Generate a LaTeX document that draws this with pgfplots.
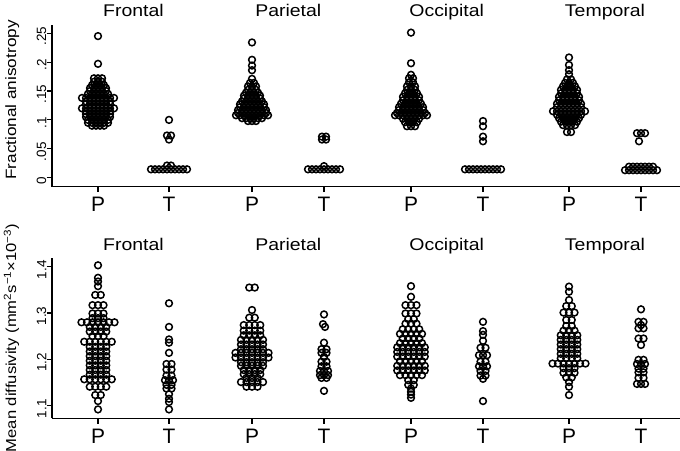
\documentclass[border=0pt]{standalone}
\usepackage{fontspec}
\setmainfont{Liberation Sans}
\newfontfamily\wide{Liberation Sans}[FakeStretch=1.15]
\usepackage{pgfplots}
\pgfplotsset{compat=1.18}
\pgfplotsset{
  dot/.style={only marks, mark=o, mark size=3.4pt, black, mark options={solid, fill=none, line width=1.5pt}},
  panel/.style={
    scale only axis, width=628bp, xmin=52, xmax=680, clip=false,
    axis x line*=bottom, axis y line*=left,
    axis line style={line width=1.2pt, black},
    tick align=outside, major tick length=5.5bp,
    tick style={line width=1.2pt, black},
    xtick={98,169,252,324,411,483,569,641},
    xticklabels={P,T,P,T,P,T,P,T},
    xticklabel style={font=\fontsize{21}{21}\selectfont, inner sep=0pt, yshift=-5bp},
    yticklabel style={rotate=90, anchor=south, font=\fontsize{13.5}{13.5}\selectfont, inner sep=0pt, xshift=-3bp},
    /pgf/number format/assume math mode=true,
  }
}
\begin{document}
\begin{tikzpicture}
\useasboundingbox (0,0) rectangle (680bp,-451bp);
% ---------------- top panel: fractional anisotropy
\begin{axis}[panel, at={(52bp,-186.7bp)}, anchor=south west, height=161.7bp,
  ymin=-0.0156, ymax=0.2642, ytick={0,0.05,0.1,0.15,0.2,0.25},
  yticklabels={0,.05,.1,.15,.2,.25}]
% Frontal P
\addplot[dot] coordinates {
(98,.245) (98,.197)
(94,.172) (98,.172) (102,.172)
(94,.166) (98,.166) (102,.166)
(92,.160) (96,.160) (100,.160) (104,.160)
(90,.155) (94,.155) (98,.155) (102,.155) (106,.155)
(90,.150) (94,.150) (98,.150) (102,.150) (106,.150)
(88,.145) (92,.145) (96,.145) (100,.145) (104,.145) (108,.145)
(82,.138) (86,.138) (90,.138) (94,.138) (98,.138) (102,.138) (106,.138) (110,.138) (114,.138)
(86,.132) (90,.132) (94,.132) (98,.132) (102,.132) (106,.132) (110,.132)
(86,.127) (90,.127) (94,.127) (98,.127) (102,.127) (106,.127) (110,.127)
(82,.120) (86,.120) (90,.120) (94,.120) (98,.120) (102,.120) (106,.120) (110,.120) (114,.120)
(86,.115) (90,.115) (94,.115) (98,.115) (102,.115) (106,.115) (110,.115)
(86,.110) (90,.110) (94,.110) (98,.110) (102,.110) (106,.110) (110,.110)
(86,.105) (90,.105) (94,.105) (98,.105) (102,.105) (106,.105) (110,.105)
(88,.100) (92,.100) (96,.100) (100,.100) (104,.100) (108,.100)
(88,.095) (92,.095) (96,.095) (100,.095) (104,.095) (108,.095)
(92,.090) (96,.090) (100,.090) (104,.090)
};
% Frontal T
\addplot[dot] coordinates {
(151,.0145) (155,.0145) (159,.0145) (163,.0145) (167,.0145) (171,.0145) (175,.0145) (179,.0145) (183,.0145) (187,.0145)
(167,.021) (171,.021)
(169,.066) (167,.073) (171,.073) (169,.100)
};
% Parietal P
\addplot[dot] coordinates {
(252,.234) (252,.204) (252,.194) (252,.186) (252,.171)
(250,.164) (254,.164)
(248,.158) (252,.158) (256,.158)
(248,.152) (252,.152) (256,.152)
(246,.147) (250,.147) (254,.147) (258,.147)
(244,.142) (248,.142) (252,.142) (256,.142) (260,.142)
(244,.137) (248,.137) (252,.137) (256,.137) (260,.137)
(242,.132) (246,.132) (250,.132) (254,.132) (258,.132) (262,.132)
(240,.127) (244,.127) (248,.127) (252,.127) (256,.127) (260,.127) (264,.127)
(240,.122) (244,.122) (248,.122) (252,.122) (256,.122) (260,.122) (264,.122)
(238,.117) (242,.117) (246,.117) (250,.117) (254,.117) (258,.117) (262,.117) (266,.117)
(238,.112) (242,.112) (246,.112) (250,.112) (254,.112) (258,.112) (262,.112) (266,.112)
(236,.108) (240,.108) (244,.108) (248,.108) (252,.108) (256,.108) (260,.108) (264,.108) (268,.108)
(242,.103) (246,.103) (250,.103) (254,.103) (258,.103) (262,.103)
(248,.098) (252,.098) (256,.098)
};
% Parietal T
\addplot[dot] coordinates {
(308,.0145) (312,.0145) (316,.0145) (320,.0145) (324,.0145) (328,.0145) (332,.0145) (336,.0145) (340,.0145)
(324,.020)
(322,.066) (326,.066) (322,.071) (326,.071)
};
% Occipital P
\addplot[dot] coordinates {
(411,.251) (411,.198) (411,.178)
(409,.172) (413,.172)
(409,.165) (413,.165)
(407,.158) (411,.158) (415,.158)
(407,.152) (411,.152) (415,.152)
(405,.146) (409,.146) (413,.146) (417,.146)
(403,.140) (407,.140) (411,.140) (415,.140) (419,.140)
(403,.134) (407,.134) (411,.134) (415,.134) (419,.134)
(401,.128) (405,.128) (409,.128) (413,.128) (417,.128) (421,.128)
(399,.122) (403,.122) (407,.122) (411,.122) (415,.122) (419,.122) (423,.122)
(399,.117) (403,.117) (407,.117) (411,.117) (415,.117) (419,.117) (423,.117)
(397,.112) (401,.112) (405,.112) (409,.112) (413,.112) (417,.112) (421,.112) (425,.112)
(395,.108) (399,.108) (403,.108) (407,.108) (411,.108) (415,.108) (419,.108) (423,.108) (427,.108)
(403,.102) (407,.102) (411,.102) (415,.102) (419,.102)
(405,.096) (409,.096) (413,.096) (417,.096)
(407,.089) (411,.089) (415,.089)
};
% Occipital T
\addplot[dot] coordinates {
(465,.0145) (469,.0145) (473,.0145) (477,.0145) (481,.0145) (485,.0145) (489,.0145) (493,.0145) (497,.0145) (501,.0145)
(483,.063) (483,.071) (483,.089) (483,.098)
};
% Temporal P
\addplot[dot] coordinates {
(569,.208) (569,.195) (569,.186) (569,.179)
(567,.170) (571,.170)
(565,.164) (569,.164) (573,.164)
(563,.158) (567,.158) (571,.158) (575,.158)
(561,.152) (565,.152) (569,.152) (573,.152) (577,.152)
(561,.146) (565,.146) (569,.146) (573,.146) (577,.146)
(559,.140) (563,.140) (567,.140) (571,.140) (575,.140) (579,.140)
(559,.134) (563,.134) (567,.134) (571,.134) (575,.134) (579,.134)
(557,.128) (561,.128) (565,.128) (569,.128) (573,.128) (577,.128) (581,.128)
(557,.122) (561,.122) (565,.122) (569,.122) (573,.122) (577,.122) (581,.122)
(553,.115) (557,.115) (561,.115) (565,.115) (569,.115) (573,.115) (577,.115) (581,.115) (585,.115)
(557,.109) (561,.109) (565,.109) (569,.109) (573,.109) (577,.109) (581,.109)
(559,.103) (563,.103) (567,.103) (571,.103) (575,.103) (579,.103)
(561,.097) (565,.097) (569,.097) (573,.097) (577,.097)
(563,.091) (567,.091) (571,.091) (575,.091)
(567,.079) (571,.079)
};
% Temporal T
\addplot[dot] coordinates {
(625,.013) (629,.013) (633,.013) (637,.013) (641,.013) (645,.013) (649,.013) (653,.013) (657,.013)
(629,.019) (633,.019) (637,.019) (641,.019) (645,.019) (649,.019) (653,.019)
(639,.063) (637,.077) (641,.077) (645,.077)
};
\end{axis}
% ---------------- bottom panel: mean diffusivity
\begin{axis}[panel, at={(52bp,-418.3bp)}, anchor=south west, height=160.6bp,
  ymin=1.0728, ymax=1.4194, ytick={1.1,1.2,1.3,1.4},
  yticklabels={1.1,1.2,1.3,1.4}]
% Frontal P
\addplot[dot] coordinates {
(98,1.403) (98,1.376) (98,1.368) (98,1.358)
(95.25,1.339) (100.75,1.339)
(92.5,1.317) (98,1.317) (103.5,1.317)
(92.5,1.299) (98,1.299) (103.5,1.299)
(92.5,1.289) (98,1.289) (103.5,1.289)
(81.5,1.280) (87,1.280) (92.5,1.280) (98,1.280) (103.5,1.280) (109,1.280) (114.5,1.280)
(89.75,1.270) (95.25,1.270) (100.75,1.270) (106.25,1.270)
(89.75,1.260) (95.25,1.260) (100.75,1.260) (106.25,1.260)
(92.5,1.250) (98,1.250) (103.5,1.250)
(84.25,1.238) (89.75,1.238) (95.25,1.238) (100.75,1.238) (106.25,1.238) (111.75,1.238)
(89.75,1.227) (95.25,1.227) (100.75,1.227) (106.25,1.227)
(89.75,1.217) (95.25,1.217) (100.75,1.217) (106.25,1.217)
(89.75,1.207) (95.25,1.207) (100.75,1.207) (106.25,1.207)
(89.75,1.197) (95.25,1.197) (100.75,1.197) (106.25,1.197)
(89.75,1.187) (95.25,1.187) (100.75,1.187) (106.25,1.187)
(89.75,1.177) (95.25,1.177) (100.75,1.177) (106.25,1.177)
(89.75,1.167) (95.25,1.167) (100.75,1.167) (106.25,1.167)
(84.25,1.157) (89.75,1.157) (95.25,1.157) (100.75,1.157) (106.25,1.157) (111.75,1.157)
(89.75,1.141) (95.25,1.141) (100.75,1.141) (106.25,1.141)
(95.25,1.123) (100.75,1.123)
(98,1.110) (98,1.092)
};
% Frontal T
\addplot[dot] coordinates {
(169,1.321) (169,1.270) (169,1.243) (169,1.236) (169,1.214)
(166.5,1.190) (171.5,1.190)
(166.5,1.178) (171.5,1.178)
(166.5,1.165) (171.5,1.165)
(165,1.155) (169,1.155) (173,1.155)
(166.5,1.145) (171.5,1.145)
(166.5,1.137) (171.5,1.137)
(169,1.125) (169,1.115) (169,1.108) (169,1.092)
};
% Parietal P
\addplot[dot] coordinates {
(249.25,1.355) (254.75,1.355)
(252,1.3065)
(249.25,1.290) (254.75,1.290)
(243.75,1.274) (249.25,1.274) (254.75,1.274) (260.25,1.274)
(243.75,1.262) (249.25,1.262) (254.75,1.262) (260.25,1.262)
(243.75,1.252) (249.25,1.252) (254.75,1.252) (260.25,1.252)
(241,1.242) (246.5,1.242) (252,1.242) (257.5,1.242) (263,1.242)
(241,1.232) (246.5,1.232) (252,1.232) (257.5,1.232) (263,1.232)
(241,1.222) (246.5,1.222) (252,1.222) (257.5,1.222) (263,1.222)
(235.5,1.214) (241,1.214) (246.5,1.214) (252,1.214) (257.5,1.214) (263,1.214) (268.5,1.214)
(235.5,1.204) (241,1.204) (246.5,1.204) (252,1.204) (257.5,1.204) (263,1.204) (268.5,1.204)
(241,1.194) (246.5,1.194) (252,1.194) (257.5,1.194) (263,1.194)
(241,1.186) (246.5,1.186) (252,1.186) (257.5,1.186) (263,1.186)
(243.75,1.177) (249.25,1.177) (254.75,1.177) (260.25,1.177)
(243.75,1.168) (249.25,1.168) (254.75,1.168) (260.25,1.168)
(246.5,1.160) (252,1.160) (257.5,1.160)
(241,1.151) (246.5,1.151) (252,1.151) (257.5,1.151) (263,1.151)
(246.5,1.141) (252,1.141) (257.5,1.141)
};
% Parietal T
\addplot[dot] coordinates {
(324,1.297) (323,1.276) (325,1.270) (324,1.236)
(321.5,1.222) (326.5,1.222)
(321.5,1.214) (326.5,1.214)
(324,1.205)
(321.5,1.195) (326.5,1.195)
(321.5,1.185) (326.5,1.185)
(320,1.175) (324,1.175) (328,1.175)
(320,1.166) (324,1.166) (328,1.166)
(321.5,1.160) (326.5,1.160)
(324,1.132)
};
% Occipital P
\addplot[dot] coordinates {
(411,1.358) (411,1.335)
(405.5,1.317) (411,1.317) (416.5,1.317)
(405.5,1.299) (411,1.299) (416.5,1.299)
(408.25,1.287) (413.75,1.287)
(405.5,1.277) (411,1.277) (416.5,1.277)
(402.75,1.265) (408.25,1.265) (413.75,1.265) (419.25,1.265)
(400,1.255) (405.5,1.255) (411,1.255) (416.5,1.255) (422,1.255)
(402.75,1.245) (408.25,1.245) (413.75,1.245) (419.25,1.245)
(400,1.235) (405.5,1.235) (411,1.235) (416.5,1.235) (422,1.235)
(397.25,1.226) (402.75,1.226) (408.25,1.226) (413.75,1.226) (419.25,1.226) (424.75,1.226)
(397.25,1.216) (402.75,1.216) (408.25,1.216) (413.75,1.216) (419.25,1.216) (424.75,1.216)
(397.25,1.206) (402.75,1.206) (408.25,1.206) (413.75,1.206) (419.25,1.206) (424.75,1.206)
(400,1.196) (405.5,1.196) (411,1.196) (416.5,1.196) (422,1.196)
(397.25,1.186) (402.75,1.186) (408.25,1.186) (413.75,1.186) (419.25,1.186) (424.75,1.186)
(397.25,1.176) (402.75,1.176) (408.25,1.176) (413.75,1.176) (419.25,1.176) (424.75,1.176)
(400,1.166) (405.5,1.166) (411,1.166) (416.5,1.166) (422,1.166)
(408.25,1.155) (413.75,1.155)
(408.25,1.145) (413.75,1.145)
(411,1.137) (411,1.130) (411,1.124) (411,1.117)
};
% Occipital T
\addplot[dot] coordinates {
(483,1.281) (483,1.261) (483,1.253) (483,1.240)
(480.5,1.225) (485.5,1.225)
(479,1.209) (483,1.209) (487,1.209)
(480.5,1.195) (485.5,1.195)
(479,1.185) (483,1.185) (487,1.185)
(480.5,1.175) (485.5,1.175)
(480.5,1.165) (485.5,1.165)
(483,1.158) (483,1.110)
};
% Temporal P
\addplot[dot] coordinates {
(569,1.357) (569,1.346) (569,1.328)
(566.25,1.315) (571.75,1.315)
(563.5,1.301) (569,1.301) (574.5,1.301)
(566.25,1.285) (571.75,1.285)
(566.25,1.272) (571.75,1.272)
(563.5,1.262) (569,1.262) (574.5,1.262)
(560.75,1.252) (566.25,1.252) (571.75,1.252) (577.25,1.252)
(560.75,1.242) (566.25,1.242) (571.75,1.242) (577.25,1.242)
(560.75,1.232) (566.25,1.232) (571.75,1.232) (577.25,1.232)
(560.75,1.222) (566.25,1.222) (571.75,1.222) (577.25,1.222)
(560.75,1.212) (566.25,1.212) (571.75,1.212) (577.25,1.212)
(560.75,1.202) (566.25,1.202) (571.75,1.202) (577.25,1.202)
(552.5,1.191) (558,1.191) (563.5,1.191) (569,1.191) (574.5,1.191) (580,1.191) (585.5,1.191)
(563.5,1.181) (569,1.181) (574.5,1.181)
(563.5,1.171) (569,1.171) (574.5,1.171)
(566.25,1.161) (571.75,1.161)
(569,1.151) (569,1.141) (569,1.123)
};
% Temporal T
\addplot[dot] coordinates {
(641,1.308)
(638.5,1.281) (643.5,1.281)
(641,1.274)
(638.5,1.267) (643.5,1.267)
(638.5,1.245) (643.5,1.245)
(641,1.231)
(638.5,1.199) (643.5,1.199)
(637,1.190) (641,1.190) (645,1.190)
(638.5,1.180) (643.5,1.180)
(638.5,1.172) (643.5,1.172)
(638.5,1.160) (643.5,1.160)
(637,1.147) (641,1.147) (645,1.147)
};
\end{axis}
% titles and axis titles
\begin{scope}[every node/.style={font=\wide\fontsize{17}{17}\selectfont, anchor=base, inner sep=0pt}]
\node at (133.5bp,-16.7bp) {Frontal};
\node at (288.3bp,-16.7bp) {Parietal};
\node at (446.7bp,-16.7bp) {Occipital};
\node at (605bp,-16.7bp) {Temporal};
\node at (133.5bp,-250.5bp) {Frontal};
\node at (288.3bp,-250.5bp) {Parietal};
\node at (446.7bp,-250.5bp) {Occipital};
\node at (605bp,-250.5bp) {Temporal};
\end{scope}
\node[rotate=90, anchor=base, inner sep=0pt, font=\wide\fontsize{15}{15}\selectfont] at (16bp,-100bp) {Fractional anisotropy};
\node[rotate=90, anchor=base, inner sep=0pt, font=\wide\fontsize{14.5}{14.5}\selectfont] at (16bp,-338bp) {Mean diffusivity (mm\textsuperscript{2}s\textsuperscript{−1}×10\textsuperscript{−3})};
\end{tikzpicture}
\end{document}
